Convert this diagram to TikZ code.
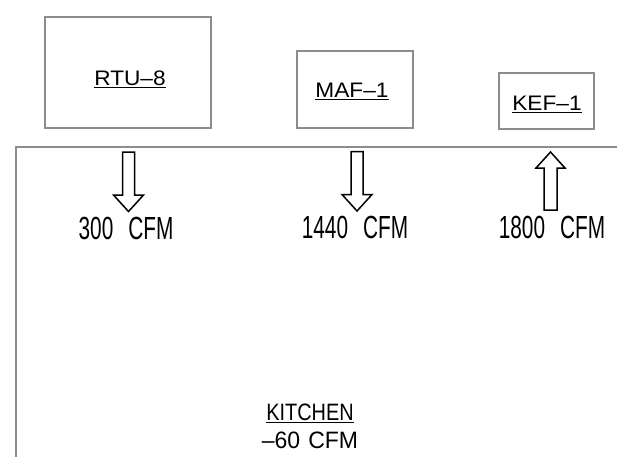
\documentclass[tikz,border=0pt]{standalone}
\usepackage{fontspec}
\setmainfont{Liberation Sans}
\usepackage{graphicx}
\usetikzlibrary{positioning}
\definecolor{linegray}{HTML}{8C8C8C}

\begin{document}
\begin{tikzpicture}[x=1pt, y=-1pt,
  unit/.style={rectangle, draw=linegray, line width=1.1pt, inner sep=0pt},
  tag/.style={inner sep=0pt, anchor=base, font=\fontsize{21}{23}\selectfont},
  flow/.style={inner sep=0pt, anchor=base, font=\fontsize{32}{34}\selectfont},
  room/.style={inner sep=0pt, anchor=base, font=\fontsize{23.7}{26}\selectfont},
  uline/.style={line width=1.4pt},
  wall/.style={draw=linegray, line width=1.1pt},
  blk/.style={line width=1.5pt, line join=miter},
  downarr/.pic={\draw[blk] (-6,0) -- (6,0) -- (6,43) -- (15,43) -- (0,59.5)
                -- (-15,43) -- (-6,43) -- cycle;},
  uparr/.pic={\draw[blk] (-6.5,0) -- (6.5,0) -- (6.5,-42) -- (14.5,-42) -- (0,-58)
              -- (-14.5,-42) -- (-6.5,-42) -- cycle;},
]
  \useasboundingbox (0,0) rectangle (617,456);

  %% Units on the roof
  \node[unit, minimum width=166pt, minimum height=111pt] (rtu) at (128,72.5) {};
  \node[unit, minimum width=116pt, minimum height=77pt]  (maf) at (355,89.5) {};
  \node[unit, minimum width=95pt,  minimum height=56pt]  (kef) at (546.5,101) {};

  \node[tag] (rtulbl) at (130,85)  {\scalebox{1.08}[1]{RTU--8}};
  \node[tag] (maflbl) at (352,97)  {\scalebox{1.08}[1]{MAF--1}};
  \node[tag] (keflbl) at (547,110) {\scalebox{1.08}[1]{KEF--1}};

  \draw[uline] ([yshift=-2.3pt]rtulbl.south west) -- ([yshift=-2.3pt]rtulbl.south east);
  \draw[uline] ([yshift=-2.3pt]maflbl.south west) -- ([yshift=-2.3pt]maflbl.south east);
  \draw[uline] ([yshift=-2.3pt]keflbl.south west) -- ([yshift=-2.3pt]keflbl.south east);

  %% Kitchen walls
  \draw[wall] (16,460) -- (16,147) -- (620,147);

  %% Air flows
  \pic (rtuarr) at (128.5,152) {downarr};
  \pic (mafarr) at (357,151.5) {downarr};
  \pic (kefarr) at (550.5,210) {uparr};

  \node[flow] (rtuflow) at (126,239) {\scalebox{0.65}[1]{300\hspace{0.72em}CFM}};
  \node[flow] (mafflow) at (355,238) {\scalebox{0.65}[1]{1440\hspace{0.72em}CFM}};
  \node[flow] (kefflow) at (552,238) {\scalebox{0.65}[1]{1800\hspace{0.72em}CFM}};

  %% Room balance
  \node[room] (kitchen) at (310,420.5) {\scalebox{0.84}[1]{KITCHEN}};
  \draw[uline] ([yshift=-1.5pt]kitchen.south west) -- ([yshift=-1.5pt]kitchen.south east);
  \node[room] (balance) at (310,448) {\scalebox{0.97}[1]{--60\hspace{0.35em}CFM}};

\end{tikzpicture}
\end{document}
